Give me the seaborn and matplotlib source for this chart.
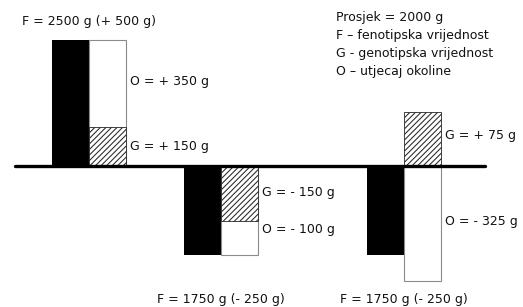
import numpy as np
import matplotlib
matplotlib.use("Agg")
import matplotlib.pyplot as plt
import seaborn as sns

# values written on the chart (grams)
prosjek = 2000
f_deviation = [500, -250, -250]
g_values = [150, -150, 75]
o_values = [350, -100, -325]

# drawn bar heights (the drawing is schematic, not to scale)
f_drawn = [126, -89, -89]
g_drawn = [39, -55, 54]
o_drawn = [87, -34, -115]

legend_lines = ["Prosjek = 2000 g",
                "F \u2013 fenotipska vrijednost",
                "G - genotipska vrijednost",
                "O \u2013 utjecaj okoline"]

# layout (pixel-like units, baseline at 0)
centers = np.array([89, 221, 404])
bar_w = 37
gap = np.diff(centers).min()
g_label_nudge = [0, 1, 3]
o_label_nudge = [2, 8, 2]

sns.set_style("white")
plt.rcParams["font.family"] = ["DejaVu Sans"]
plt.rcParams["hatch.linewidth"] = 0.75

fig = plt.figure(figsize=(5.23, 3.07), dpi=100)
ax = fig.add_axes([0, 0, 1, 1])

# white O segment spans from G end (same sign) or from baseline (opposite sign)
o_outer = [g + o if np.sign(g) == np.sign(o) else o for g, o in zip(g_drawn, o_drawn)]

sns.barplot(x=centers - bar_w / 2, y=f_drawn, native_scale=True, orient="x",
            width=bar_w / gap, color="black", saturation=1, edgecolor="black",
            linewidth=0, errorbar=None, ax=ax)
sns.barplot(x=centers + bar_w / 2, y=o_outer, native_scale=True, orient="x",
            width=bar_w / gap, color="white", saturation=1, edgecolor="#8a8a8a",
            linewidth=0.8, errorbar=None, ax=ax)
sns.barplot(x=centers + bar_w / 2, y=g_drawn, native_scale=True, orient="x",
            width=bar_w / gap, color="white", saturation=1, edgecolor="#262626",
            linewidth=0.6, hatch="//////", errorbar=None, ax=ax)

ax.axhline(0, xmin=15 / 523, xmax=485 / 523, color="black", lw=2.4, zorder=5)

def fmt(v):
    return ("+ " if v > 0 else "- ") + f"{abs(v)} g"

fs = 9
tc = "#111111"
for i, c in enumerate(centers):
    f_g = prosjek + f_deviation[i]
    y = f_drawn[i] + 18 if f_drawn[i] > 0 else -133
    ax.text(c, y, f"F = {f_g} g ({fmt(f_deviation[i])})", ha="center", va="center",
            fontsize=fs, color=tc)
    xr = c + bar_w + 4
    ax.text(xr, g_drawn[i] / 2 + g_label_nudge[i], f"G = {fmt(g_values[i])}",
            ha="left", va="center", fontsize=fs, color=tc)
    o_start = g_drawn[i] if np.sign(g_drawn[i]) == np.sign(o_drawn[i]) else 0
    ax.text(xr, (o_start + o_outer[i]) / 2 + o_label_nudge[i], f"O = {fmt(o_values[i])}",
            ha="left", va="center", fontsize=fs, color=tc)

for k, line in enumerate(legend_lines):
    ax.text(336, 149 - 18 * k, line, ha="left", va="center", fontsize=fs, color=tc)

ax.set_xlim(0, 523)
ax.set_ylim(-141, 166)
ax.axis("off")
fig.savefig("out.png", dpi=100, facecolor="white")
